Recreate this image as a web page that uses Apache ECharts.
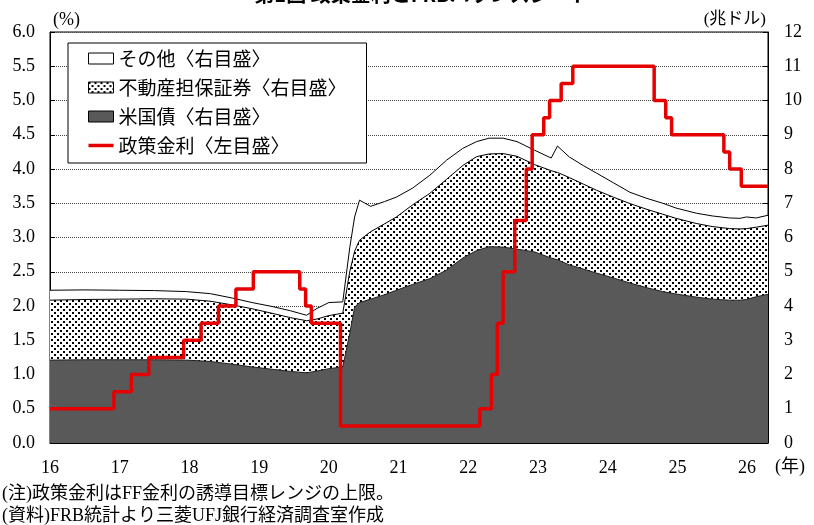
<!DOCTYPE html>
<html><head><meta charset="utf-8">
<script src="https://cdn.jsdelivr.net/npm/echarts@6/dist/echarts.min.js"></script>
<style>html,body{margin:0;padding:0;background:#fff}#c{width:814px;height:525px}</style>
</head><body><div id="c"></div>
<script>
// ---- data (decimal years, e.g. 20.25 = early 2020) ----
const dates = [16.0,16.5,17.0,17.5,17.96,18.3,18.62,18.9,19.2,19.45,19.68,19.83,20.0,20.2,20.3,20.37,20.44,20.6,20.8,20.97,21.2,21.45,21.69,21.92,22.12,22.3,22.5,22.7,22.95,23.19,23.28,23.45,23.65,23.84,24.08,24.32,24.55,24.79,24.98,25.27,25.5,25.75,25.9,25.99,26.13,26.3];
// 米国債 (trillion USD)
const treasury = [2.42,2.43,2.43,2.43,2.42,2.38,2.30,2.22,2.15,2.09,2.05,2.10,2.17,2.22,3.20,3.97,4.10,4.20,4.33,4.46,4.63,4.80,5.05,5.40,5.62,5.73,5.72,5.66,5.58,5.40,5.35,5.20,5.08,4.96,4.82,4.67,4.54,4.42,4.35,4.26,4.20,4.17,4.17,4.19,4.27,4.34];
// 不動産担保証券 (trillion USD)
const mbs = [1.75,1.76,1.77,1.78,1.78,1.76,1.73,1.70,1.63,1.57,1.52,1.52,1.55,1.57,1.80,1.63,1.82,1.97,2.07,2.14,2.32,2.49,2.65,2.70,2.74,2.71,2.73,2.71,2.55,2.55,2.55,2.55,2.48,2.42,2.36,2.32,2.29,2.26,2.21,2.15,2.12,2.09,2.08,2.07,2.03,2.02];
// その他 (trillion USD)
const others = [0.29,0.28,0.26,0.24,0.22,0.22,0.20,0.18,0.20,0.20,0.16,0.31,0.38,0.33,0.70,1.00,1.17,0.74,0.65,0.58,0.49,0.53,0.56,0.50,0.44,0.46,0.45,0.43,0.42,0.37,0.77,0.60,0.54,0.50,0.42,0.33,0.32,0.32,0.30,0.30,0.31,0.31,0.31,0.34,0.27,0.29];
// 政策金利 (FF upper bound, %), value holds from the date until the next date
const rateDates = [16.0,16.917,17.167,17.417,17.917,18.167,18.417,18.667,18.917,19.583,19.667,19.75,20.167,22.167,22.333,22.417,22.5,22.667,22.833,22.917,23.083,23.167,23.333,23.5,24.667,24.833,24.917,25.667,25.75,25.917,26.3];
const rateValues = [0.5,0.75,1.0,1.25,1.5,1.75,2.0,2.25,2.5,2.25,2.0,1.75,0.25,0.5,1.0,1.75,2.5,3.25,4.0,4.5,4.75,5.0,5.25,5.5,5.0,4.75,4.5,4.25,4.0,3.75,3.75];
const yearTicks = [16,17,18,19,20,21,22,23,24,25,26];
const names = ['その他〈右目盛〉','不動産担保証券〈右目盛〉','米国債〈右目盛〉','政策金利〈左目盛〉'];

// cumulative layers (stack tops) built from the arrays above
const topTM = treasury.map((t, i) => +(t + mbs[i]).toFixed(3));
const topAll = topTM.map((v, i) => +(v + others[i]).toFixed(3));

// dotted pattern for MBS
const pc = document.createElement('canvas');
pc.width = 6; pc.height = 6;
const g = pc.getContext('2d');
g.fillStyle = '#fff'; g.fillRect(0,0,6,6);
g.fillStyle = '#000'; g.fillRect(0,0,2,2); g.fillRect(3,3,2,2);
const dots = {image: pc, repeat: 'repeat'};

const FONT = "'Liberation Serif','Noto Sans CJK JP',serif";
const JP = "'Noto Sans CJK JP','Liberation Serif',sans-serif";
const pair = (xs, ys) => xs.map((x, i) => [x, ys[i]]);

const chart = echarts.init(document.getElementById('c'));
chart.setOption({
  animation: false,
  backgroundColor: '#fff',
  grid: {left: 50, right: 46, top: 32, bottom: 82, show: true, borderColor: '#000', borderWidth: 1, backgroundColor: 'transparent'},
  legend: {
    orient: 'vertical', left: 68, top: 43,
    padding: [6, 20, 8, 20], itemGap: 10, itemWidth: 25, itemHeight: 11,
    backgroundColor: '#fff', borderColor: '#000', borderWidth: 1, borderRadius: 0,
    textStyle: {fontFamily: JP, fontSize: 19, color: '#000'},
    data: [
      {name: names[0], icon: 'rect', itemStyle: {color: '#fff', borderColor: '#000', borderWidth: 1}},
      {name: names[1], icon: 'rect', itemStyle: {color: dots, borderColor: '#000', borderWidth: 1}},
      {name: names[2], icon: 'rect', itemStyle: {color: '#595959', borderColor: '#000', borderWidth: 1}},
      {name: names[3], icon: 'path://M0,0L25,0L25,3.5L0,3.5Z', itemStyle: {color: '#e60000', borderWidth: 0}}
    ]
  },
  xAxis: {
    type: 'value', min: 16, max: 26.3, interval: 1,
    axisLine: {lineStyle: {color: '#000', width: 1}},
    axisTick: {inside: true, length: 5, lineStyle: {color: '#000'}},
    axisLabel: {fontFamily: FONT, fontSize: 18, color: '#000', margin: 16, showMaxLabel: false,
      formatter: v => yearTicks.indexOf(v) >= 0 ? String(v) : ''},
    splitLine: {show: false}
  },
  yAxis: [
    {type: 'value', min: 0, max: 6, interval: 0.5, position: 'left',
     axisLine: {show: true, lineStyle: {color: '#000'}},
     axisTick: {show: true, inside: true, length: 5, lineStyle: {color: '#000'}},
     axisLabel: {fontFamily: FONT, fontSize: 18, color: '#000', margin: 15, formatter: v => v.toFixed(1)},
     splitLine: {show: true, lineStyle: {type: [1, 1], color: '#444', width: 1}}},
    {type: 'value', min: 0, max: 12, interval: 1, position: 'right',
     axisLine: {show: true, lineStyle: {color: '#000'}},
     axisTick: {show: true, inside: true, length: 5, lineStyle: {color: '#000'}},
     axisLabel: {fontFamily: FONT, fontSize: 18, color: '#000', margin: 16},
     splitLine: {show: false}}
  ],
  series: [
    {name: names[0], type: 'line', yAxisIndex: 1, symbol: 'none', z: 2,
     data: pair(dates, topAll), lineStyle: {color: '#000', width: 1}, itemStyle: {color: '#fff'},
     areaStyle: {color: '#fff', opacity: 1, origin: 'start'}},
    {name: names[1], type: 'line', yAxisIndex: 1, symbol: 'none', z: 3,
     data: pair(dates, topTM), lineStyle: {color: '#000', width: 1}, itemStyle: {color: '#888'},
     areaStyle: {color: dots, opacity: 1, origin: 'start'}},
    {name: names[2], type: 'line', yAxisIndex: 1, symbol: 'none', z: 4,
     data: pair(dates, treasury), lineStyle: {color: '#222', width: 1}, itemStyle: {color: '#595959'},
     areaStyle: {color: '#595959', opacity: 1, origin: 'start'}},
    {name: names[3], type: 'line', yAxisIndex: 0, step: 'end', symbol: 'none', z: 6,
     data: pair(rateDates, rateValues), lineStyle: {color: '#e60000', width: 3.5}, itemStyle: {color: '#e60000'}}
  ],
  graphic: [
    {type: 'text', x: 422, y: 4, style: {text: '第1図 政策金利とFRBバランスシート', font: "bold 20px 'Noto Sans CJK JP'", fill: '#000', align: 'center', verticalAlign: 'bottom'}},
    {type: 'text', x: 53, y: 20, style: {text: '(%)', font: "18px " + FONT, fill: '#000', align: 'left', verticalAlign: 'middle'}},
    {type: 'text', x: 766, y: 20, style: {text: '(兆ドル)', font: "17px " + FONT, fill: '#000', align: 'right', verticalAlign: 'middle'}},
    {type: 'text', x: 775, y: 467, style: {text: '(年)', font: "18px " + FONT, fill: '#000', align: 'left', verticalAlign: 'middle'}},
    {type: 'text', x: 2, y: 494, style: {text: '(注)政策金利はFF金利の誘導目標レンジの上限。', font: "18px " + FONT, fill: '#000', align: 'left', verticalAlign: 'middle'}},
    {type: 'text', x: 2, y: 516, style: {text: '(資料)FRB統計より三菱UFJ銀行経済調査室作成', font: "18px " + FONT, fill: '#000', align: 'left', verticalAlign: 'middle'}}
  ]
});
</script></body></html>
